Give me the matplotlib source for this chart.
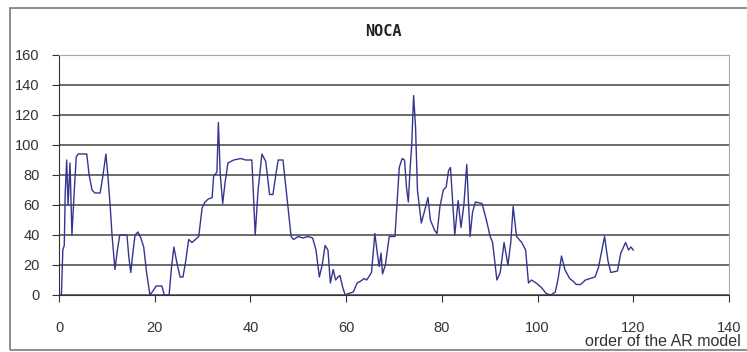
import matplotlib.pyplot as plt
from matplotlib.patches import Rectangle

# values (order of the AR model vs NOCA)
order = [0, 0.5, 0.8, 1.1, 1.3, 1.6, 1.9, 2.3, 2.7, 3.2, 3.6, 4.0, 5.0, 5.8,
         6.3, 6.9, 7.5, 8.6, 9.2, 9.8, 10.2, 10.7, 11.1, 11.7, 12.2, 12.7,
         13.5, 14.2, 14.6, 15.0, 15.5, 15.9, 16.5, 17.1, 17.7, 18.3, 19.0,
         19.7, 20.3, 21.0, 21.5, 22.0, 23.0, 23.5, 24.0, 24.6, 25.3, 25.9,
         26.4, 27.1, 27.8, 28.5, 29.2, 29.9, 30.5, 31.2, 32.0, 32.3, 33.0,
         33.3, 33.7, 34.2, 34.7, 35.3, 36.5, 38.0, 39.0, 40.3, 41.0, 41.6,
         42.4, 43.2, 44.0, 44.7, 45.3, 45.8, 46.8, 47.6, 48.5, 49.0, 50.0,
         51.0, 52.0, 53.0, 53.7, 54.4, 55.0, 55.6, 56.2, 56.7, 57.3, 57.8,
         58.3, 58.7, 59.3, 59.8, 60.5, 61.5, 62.3, 62.9, 63.8, 64.3, 65.3,
         66.0, 66.5, 66.9, 67.3, 67.6, 68.2, 69.0, 70.2, 70.7, 71.1, 71.7,
         72.2, 72.6, 73.0, 73.3, 73.7, 74.1, 74.5, 74.9, 75.7, 76.3, 77.1,
         77.6, 78.5, 79.0, 79.6, 80.3, 80.9, 81.4, 81.8, 82.7, 83.4, 84.0,
         84.6, 85.2, 85.9, 86.4, 87.0, 88.4, 89.3, 90.1, 90.6, 91.5, 92.2,
         93.0, 93.8, 94.4, 94.9, 95.6, 96.7, 97.5, 98.1, 98.7, 99.7, 100.8,
         101.8, 102.8, 103.7, 104.3, 105.0, 105.7, 106.7, 107.5, 108.1, 109.0,
         110.0, 111.0, 112.0, 112.7, 114.0, 114.7, 115.3, 116.7, 117.4, 118.4,
         119.0, 119.5, 120.0]
noca = [0, 0, 30, 33, 68, 90, 60, 88, 40, 70, 92, 94, 94, 94,
        80, 70, 68, 68, 80, 94, 80, 59, 39, 17, 30, 40,
        40, 40, 25, 15, 30, 40, 42, 38, 32, 15, 0,
        3, 6, 6, 6, 0, 0, 18, 32, 22, 12, 12,
        21, 37, 35, 37, 39, 58, 62, 64, 65, 79, 82,
        115, 80, 61, 75, 88, 90, 91, 90, 90, 40, 70,
        94, 89, 67, 67, 80, 90, 90, 66, 39, 37, 39,
        38, 39, 38, 30, 12, 20, 33, 30, 8, 17, 10,
        12, 13, 5, 0, 1, 2, 8, 9, 11, 10, 15,
        41, 28, 19, 28, 14, 20, 39, 39, 65, 85, 91,
        90, 72, 62, 81, 100, 133, 112, 70, 48, 55, 65,
        50, 43, 41, 59, 70, 72, 83, 85, 40, 63, 45,
        60, 87, 39, 55, 62, 61, 50, 39, 35, 10, 15,
        35, 20, 35, 59, 39, 35, 30, 8, 10, 8, 5,
        1, 0, 2, 11, 26, 17, 11, 9, 7, 7,
        10, 11, 12, 18, 39, 23, 15, 16, 28, 35,
        30, 32, 30]
yticks = [0, 20, 40, 60, 80, 100, 120, 140, 160]
xticks = [0, 20, 40, 60, 80, 100, 120, 140]

plt.rcParams['font.family'] = ['Liberation Sans', 'DejaVu Sans']

fig = plt.figure(figsize=(7.47, 3.52), dpi=100)

# outer chart frame (right side runs off the picture)
fig.patches.append(Rectangle((10 / 747, 2 / 352), 1.0, 342 / 352,
                             transform=fig.transFigure, fill=False,
                             edgecolor='#7a7a7a', linewidth=1.2))

ax = fig.add_axes([59 / 747, 57 / 352, 670 / 747, 240 / 352])
ax.plot(order, noca, color='#34358f', linewidth=1.0)

ax.set_xlim(0, 140)
ax.set_ylim(0, 160)
ax.set_xticks(xticks)
ax.set_yticks(yticks)
ax.yaxis.grid(True, color='#444444', linewidth=1.1)
ax.set_axisbelow(True)

for side in ['top', 'right']:
    ax.spines[side].set_color('#aaaaaa')
ax.spines['left'].set_color('#333333')
ax.spines['bottom'].set_color('#333333')
ax.tick_params(axis='y', direction='out', length=5, pad=9, labelsize=10.5,
               colors='#333333')
ax.tick_params(axis='x', direction='out', length=5, pad=14, labelsize=10.5,
               colors='#333333')

fig.text(383 / 747, 1 - 32 / 352, 'NOCA', ha='center', va='center',
         fontsize=11, fontweight='bold', family='DejaVu Sans Mono',
         color='#222222')
fig.text(585 / 747, 1 - 342 / 352, 'order of the AR model', ha='left',
         va='center', fontsize=11.5, color='#333333')

plt.savefig('out.png', dpi=100)
